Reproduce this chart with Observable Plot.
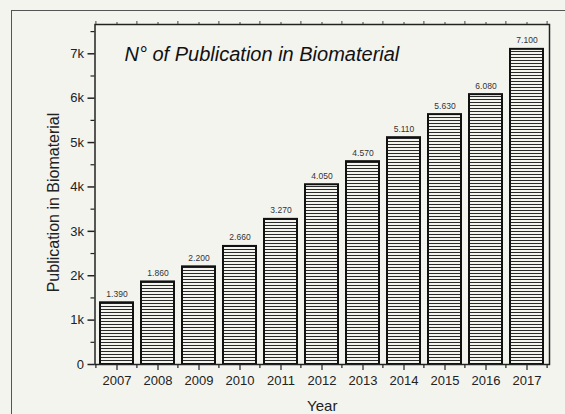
<!DOCTYPE html>
<html><head><meta charset="utf-8">
<script src="https://cdn.jsdelivr.net/npm/d3@7"></script>
<script src="https://cdn.jsdelivr.net/npm/@observablehq/plot@0.6"></script>
<style>
html,body{margin:0;padding:0;background:#f4f4ef;width:565px;height:414px;overflow:hidden;}
#wrap{position:relative;width:565px;height:414px;}
#border{position:absolute;left:11px;top:10px;width:600px;height:500px;border-left:1.5px solid #555;border-top:1.5px solid #555;}
#chart{position:absolute;left:0;top:0;}
</style></head><body><div id="wrap"><div id="border"></div><div id="chart"></div></div>
<script>
const years = ["2007","2008","2009","2010","2011","2012","2013","2014","2015","2016","2017"];
const publications = [1390, 1860, 2200, 2660, 3270, 4050, 4570, 5110, 5630, 6080, 7100];
const yTicks = [0, 1000, 2000, 3000, 4000, 5000, 6000, 7000];
const yMinorTicks = [500, 1500, 2500, 3500, 4500, 5500, 6500, 7500];
const titleText = "N° of Publication in Biomaterial";
const yLabel = "Publication in Biomaterial";
const xLabel = "Year";

const data = years.map((y, i) => ({year: y, value: publications[i]}));
const fmt = d3.formatLocale({thousands: ".", grouping: [3], decimal: ",", currency: ["", ""]}).format(",d");
const kfmt = d => d === 0 ? "0" : (d / 1000) + "k";
const font = "'Liberation Sans', Arial, Helvetica, sans-serif";

const plot = Plot.plot({
  width: 565, height: 414,
  marginLeft: 94.5, marginRight: 16, marginTop: 24, marginBottom: 50,
  style: {background: "transparent", fontFamily: font, color: "#222"},
  x: {type: "band", domain: years, paddingInner: 0.2, paddingOuter: 0.1},
  y: {domain: [0, 7660]},
  marks: [
    Plot.barY(data, {x: "year", y: "value", fill: "url(#hatch)", stroke: "#111", strokeWidth: 2}),
    Plot.text(data, {x: "year", y: "value", text: d => fmt(d.value), dy: -6, lineAnchor: "bottom", fontSize: 8.5, fill: "#333"}),
    Plot.axisY(yTicks, {tickSize: 7, tickPadding: 4, tickFormat: kfmt, fontSize: 13, label: null, stroke: "#222", strokeWidth: 1.5}),
    Plot.axisY(yMinorTicks, {tickSize: 4, tickFormat: () => "", label: null, stroke: "#222", strokeWidth: 1.2}),
    Plot.axisX(years, {tickSize: 6, tickPadding: 5, fontSize: 13, label: null, stroke: "#222", strokeWidth: 1.2}),
    Plot.axisX(years, {anchor: "top", tickSize: 3, tickFormat: () => "", label: null, stroke: "#444", strokeWidth: 1}),
    Plot.frame({stroke: "#222", strokeWidth: 1.5}),
    Plot.text([titleText], {frameAnchor: "top-left", dx: 29.5, dy: 36, lineAnchor: "bottom", textAnchor: "start", fontSize: 20, fontStyle: "italic", fill: "#111"}),
    Plot.text([xLabel], {frameAnchor: "bottom", dy: 46, lineAnchor: "bottom", fontSize: 15, fill: "#222"}),
    Plot.text([yLabel], {frameAnchor: "left", textAnchor: "middle", dx: -36, dy: 8, rotate: -90, lineAnchor: "bottom", fontSize: 16, fill: "#222"})
  ]
});

const svg = d3.select(plot);
svg.insert("defs", ":first-child").html(
  '<pattern id="hatch" patternUnits="userSpaceOnUse" width="6" height="3">' +
  '<rect width="6" height="3" fill="#f4f4ef"></rect>' +
  '<line x1="0" x2="6" y1="0.5" y2="0.5" stroke="#2a2a2a" stroke-width="1"></line></pattern>');

// boundary (minor) ticks between categories, via the plot's own x scale
const xs = plot.scale("x");
const ys = plot.scale("y");
const half = xs.step * xs.paddingInner / 2;
const bounds = years.map(y => xs.apply(y) - half);
bounds.push(xs.apply(years[years.length - 1]) + xs.bandwidth + half);
const y0 = ys.apply(0);
const yTop = ys.apply(ys.domain[1]);
const g = svg.append("g").attr("stroke", "#222").attr("stroke-width", 1.2);
bounds.forEach(bx => {
  g.append("line").attr("x1", bx).attr("x2", bx).attr("y1", y0).attr("y2", y0 + 4);
  g.append("line").attr("x1", bx).attr("x2", bx).attr("y1", yTop).attr("y2", yTop - 3).attr("stroke", "#444").attr("stroke-width", 1);
});

document.getElementById("chart").appendChild(plot);
</script>
</body></html>
